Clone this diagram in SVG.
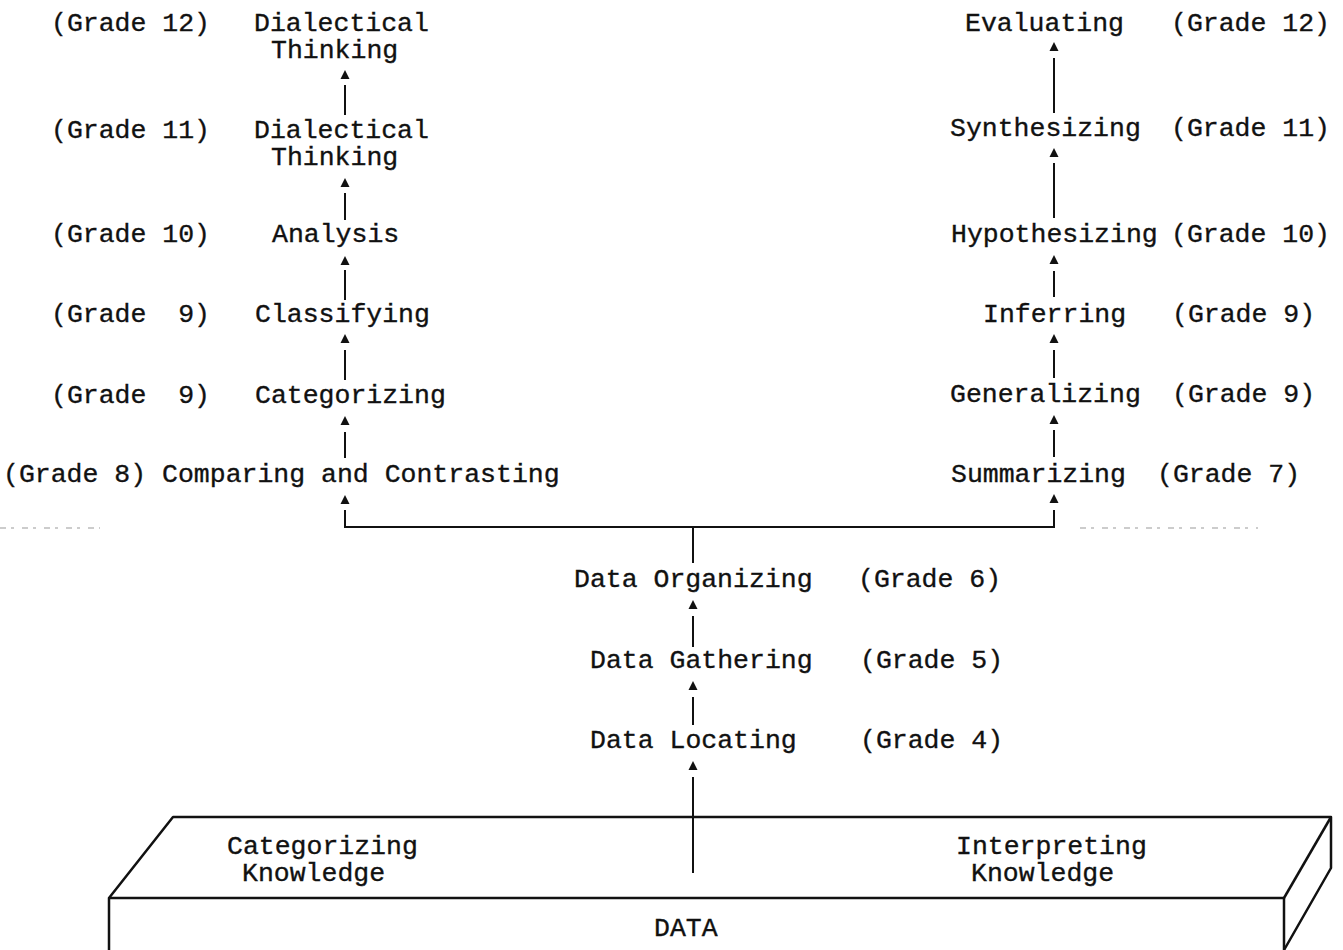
<svg xmlns="http://www.w3.org/2000/svg" xmlns:xlink="http://www.w3.org/1999/xlink" width="1343" height="950" viewBox="0 0 1343 950">
  <style>
    text { font-family: "Liberation Mono", "Courier New", monospace; font-size: 26.5px; fill: #111; stroke: #111; stroke-width: 0.35; }
    .conn { stroke: #111; stroke-width: 2; fill: none; }
    .slab { stroke: #111; stroke-width: 2.5; fill: none; stroke-linejoin: round; }
    .scan { stroke: #9a9a9a; stroke-width: 1.2; stroke-dasharray: 6 5 3 8; fill: none; }
  </style>
  <defs>
    <!-- small solid arrowhead, tip at the origin, pointing up -->
    <path id="ah" d="M0,0 L4.5,9 L-4.5,9 Z" fill="#111"/>
  </defs>
  <rect width="1343" height="950" fill="#fff"/>

  <!-- connectors -->
  <g id="connectors">
    <!-- left column -->
    <line class="conn" x1="345" y1="85" x2="345" y2="115"/>
    <use xlink:href="#ah" x="345" y="70"/>
    <line class="conn" x1="345" y1="193" x2="345" y2="220"/>
    <use xlink:href="#ah" x="345" y="178"/>
    <line class="conn" x1="345" y1="270" x2="345" y2="300"/>
    <use xlink:href="#ah" x="345" y="256"/>
    <line class="conn" x1="345" y1="350" x2="345" y2="380"/>
    <use xlink:href="#ah" x="345" y="334"/>
    <line class="conn" x1="345" y1="432" x2="345" y2="458"/>
    <use xlink:href="#ah" x="345" y="416"/>
    <use xlink:href="#ah" x="345" y="495"/>
    <!-- right column -->
    <line class="conn" x1="1054" y1="58" x2="1054" y2="113"/>
    <use xlink:href="#ah" x="1054" y="42"/>
    <line class="conn" x1="1054" y1="163" x2="1054" y2="218"/>
    <use xlink:href="#ah" x="1054" y="148"/>
    <line class="conn" x1="1054" y1="271" x2="1054" y2="297"/>
    <use xlink:href="#ah" x="1054" y="255"/>
    <line class="conn" x1="1054" y1="350" x2="1054" y2="378"/>
    <use xlink:href="#ah" x="1054" y="334"/>
    <line class="conn" x1="1054" y1="430" x2="1054" y2="457"/>
    <use xlink:href="#ah" x="1054" y="415"/>
    <use xlink:href="#ah" x="1054" y="494"/>
    <!-- branching bar -->
    <path class="conn" d="M345,510 L345,527 L1054,527 L1054,510"/>
    <line class="conn" x1="693" y1="527" x2="693" y2="563"/>
    <!-- centre column -->
    <line class="conn" x1="693" y1="616" x2="693" y2="647"/>
    <use xlink:href="#ah" x="693" y="600"/>
    <line class="conn" x1="693" y1="697" x2="693" y2="725"/>
    <use xlink:href="#ah" x="693" y="681"/>
    <line class="conn" x1="693" y1="777" x2="693" y2="873"/>
    <use xlink:href="#ah" x="693" y="761"/>
    <!-- faint continuation of the bar -->
    <line class="scan" x1="0" y1="528" x2="100" y2="528"/>
    <line class="scan" x1="1080" y1="528" x2="1258" y2="528"/>
  </g>

  <!-- left column nodes -->
  <g id="n-dialectical-12">
    <text x="51" y="31" xml:space="preserve">(Grade 12)</text>
    <text x="254" y="31">Dialectical</text>
    <text x="271" y="58">Thinking</text>
  </g>
  <g id="n-dialectical-11">
    <text x="51" y="138" xml:space="preserve">(Grade 11)</text>
    <text x="254" y="138">Dialectical</text>
    <text x="271" y="165">Thinking</text>
  </g>
  <g id="n-analysis">
    <text x="51" y="242" xml:space="preserve">(Grade 10)</text>
    <text x="272" y="242">Analysis</text>
  </g>
  <g id="n-classifying">
    <text x="51" y="322" xml:space="preserve">(Grade  9)</text>
    <text x="255" y="322">Classifying</text>
  </g>
  <g id="n-categorizing">
    <text x="51" y="403" xml:space="preserve">(Grade  9)</text>
    <text x="255" y="403">Categorizing</text>
  </g>
  <g id="n-comparing">
    <text x="3" y="482" xml:space="preserve">(Grade 8) Comparing and Contrasting</text>
  </g>

  <!-- right column nodes -->
  <g id="n-evaluating">
    <text x="965" y="31">Evaluating</text>
    <text x="1171" y="31" xml:space="preserve">(Grade 12)</text>
  </g>
  <g id="n-synthesizing">
    <text x="950" y="136">Synthesizing</text>
    <text x="1171" y="136" xml:space="preserve">(Grade 11)</text>
  </g>
  <g id="n-hypothesizing">
    <text x="951" y="242">Hypothesizing</text>
    <text x="1171" y="242" xml:space="preserve">(Grade 10)</text>
  </g>
  <g id="n-inferring">
    <text x="983" y="322">Inferring</text>
    <text x="1172" y="322" xml:space="preserve">(Grade 9)</text>
  </g>
  <g id="n-generalizing">
    <text x="950" y="402">Generalizing</text>
    <text x="1172" y="402" xml:space="preserve">(Grade 9)</text>
  </g>
  <g id="n-summarizing">
    <text x="951" y="482">Summarizing</text>
    <text x="1157" y="482" xml:space="preserve">(Grade 7)</text>
  </g>

  <!-- centre column nodes -->
  <g id="n-data-organizing">
    <text x="574" y="587">Data Organizing</text>
    <text x="858" y="587" xml:space="preserve">(Grade 6)</text>
  </g>
  <g id="n-data-gathering">
    <text x="590" y="668">Data Gathering</text>
    <text x="860" y="668" xml:space="preserve">(Grade 5)</text>
  </g>
  <g id="n-data-locating">
    <text x="590" y="748">Data Locating</text>
    <text x="860" y="748" xml:space="preserve">(Grade 4)</text>
  </g>

  <!-- base slab -->
  <g id="n-data">
    <path class="slab" d="M109,950 L109,898 L173,817 L1331,817 L1331,868 L1284,950"/>
    <line class="slab" x1="109" y1="898" x2="1284" y2="898"/>
    <line class="slab" x1="1331" y1="817" x2="1284" y2="898"/>
    <line class="slab" x1="1284" y1="898" x2="1284" y2="950"/>
    <text x="227" y="854">Categorizing</text>
    <text x="242" y="881">Knowledge</text>
    <text x="956" y="854">Interpreting</text>
    <text x="971" y="881">Knowledge</text>
    <text x="654" y="936">DATA</text>
  </g>
</svg>
